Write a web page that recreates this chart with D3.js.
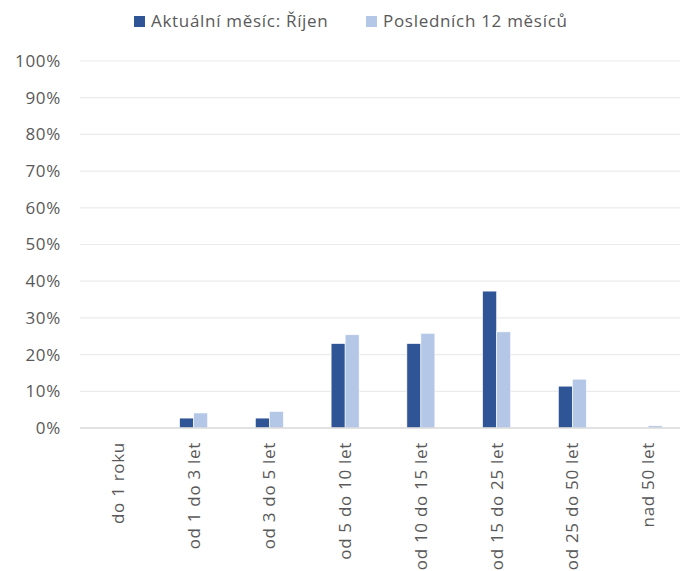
<!DOCTYPE html>
<html>
<head>
<meta charset="utf-8">
<script src="https://cdn.jsdelivr.net/npm/d3@7"></script>
<style>
  body { margin: 0; background: #fff; }
  svg text { font-family: "Open Sans", sans-serif; fill: #595959; letter-spacing: 0.7px; }
</style>
</head>
<body>
<div id="container"></div>
<script>
/* data */
const categories = ["do 1 roku", "od 1 do 3 let", "od 3 do 5 let", "od 5 do 10 let",
  "od 10 do 15 let", "od 15 do 25 let", "od 25 do 50 let", "nad 50 let"]
const seriesNames = ["Aktuální měsíc: Říjen", "Posledních 12 měsíců"]
const currentMonth = [0, 2.7, 2.7, 23.0, 23.0, 37.3, 11.4, 0]
const last12Months = [0, 4.1, 4.5, 25.4, 25.8, 26.2, 13.3, 0.6]
const yTicks = [0, 10, 20, 30, 40, 50, 60, 70, 80, 90, 100]

const colors = ["#2F5597", "#B4C7E7"]

const width = 680, height = 571
const margin = { top: 61, left: 80, bottom: 143 }
const plotRight = 686 /* plot runs a bit past the right edge, cropped in original */

const svg = d3.select("#container").append("svg")
  .attr("width", width)
  .attr("height", height)

const xScale = d3.scaleBand()
  .domain(categories)
  .range([margin.left, plotRight])

const yScale = d3.scaleLinear()
  .domain([0, 100])
  .range([height - margin.bottom, margin.top])

const barW = 14

/* gridlines */
svg.append("g")
  .selectAll("line")
  .data(yTicks.filter(d => d > 0))
  .join("line")
  .attr("x1", margin.left)
  .attr("x2", plotRight)
  .attr("y1", d => yScale(d))
  .attr("y2", d => yScale(d))
  .attr("stroke", "#EBEBEB")
  .attr("stroke-width", 1.2)

/* y axis labels */
const yAxis = d3.axisLeft(yScale)
  .tickValues(yTicks)
  .tickFormat(d => d + "%")
  .tickSize(0)
  .tickPadding(19)

svg.append("g")
  .attr("transform", `translate(${margin.left},0)`)
  .call(yAxis)
  .call(g => g.select(".domain").remove())
  .selectAll("text")
  .style("font-size", "17px")
  .attr("fill", "#595959")

/* bars */
const rows = categories.map((c, i) => ({ cat: c, vals: [currentMonth[i], last12Months[i]] }))

svg.append("g")
  .selectAll("g")
  .data(rows)
  .join("g")
  .selectAll("rect")
  .data(d => d.vals.map((v, k) => ({ cat: d.cat, v: v, k: k })))
  .join("rect")
  .attr("x", d => xScale(d.cat) + xScale.bandwidth() / 2 - barW + d.k * barW)
  .attr("y", d => yScale(d.v))
  .attr("width", barW)
  .attr("height", d => yScale(0) - yScale(d.v))
  .attr("fill", d => colors[d.k])
  .attr("stroke", "#fff")
  .attr("stroke-width", 0.6)

/* x axis */
svg.append("line")
  .attr("x1", margin.left)
  .attr("x2", plotRight)
  .attr("y1", yScale(0))
  .attr("y2", yScale(0))
  .attr("stroke", "#D9D9D9")
  .attr("stroke-width", 1.5)

svg.append("g")
  .selectAll("text")
  .data(categories)
  .join("text")
  .attr("transform", d => `translate(${xScale(d) + xScale.bandwidth() / 2 + 6},${yScale(0) + 14}) rotate(-90)`)
  .attr("text-anchor", "end")
  .style("font-size", "17px")
  .text(d => d)

/* legend */
const legendX = [134, 366]
const legend = svg.append("g")
  .selectAll("g")
  .data(seriesNames)
  .join("g")
  .attr("transform", (d, i) => `translate(${legendX[i]},16)`)

legend.append("rect")
  .attr("width", 11)
  .attr("height", 11)
  .attr("fill", (d, i) => colors[i])

legend.append("text")
  .attr("x", 17)
  .attr("y", 11)
  .style("font-size", "17px")
  .text(d => d)
</script>
</body>
</html>
